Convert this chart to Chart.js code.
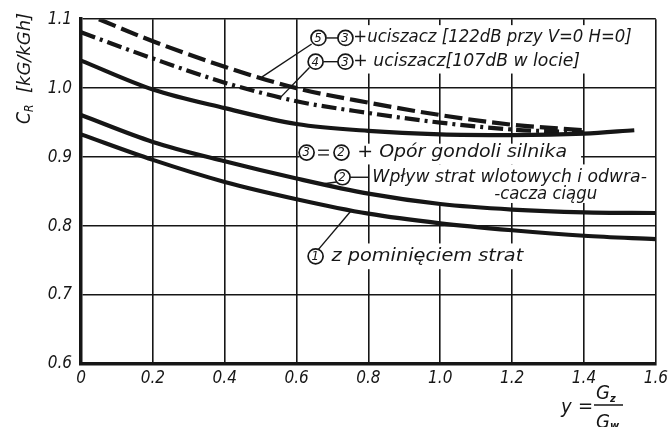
<!DOCTYPE html>
<html>
<head>
<meta charset="utf-8">
<script src="https://cdn.jsdelivr.net/npm/chart.js@4/dist/chart.umd.min.js"></script>
<style>
  html, body { margin: 0; padding: 0; background: #fff; }
  #wrap { width: 672px; height: 427px; }
</style>
</head>
<body>
<div id="wrap"><canvas id="c" width="672" height="427"></canvas></div>
<script>
// Specific fuel consumption C_R versus bypass ratio y = Gz/Gw
const FONT = "'Liberation Sans Narrow','DejaVu Sans Condensed','Liberation Sans',sans-serif";
const INK = '#161616';

// x ticks (bypass ratio) and y ticks (C_R)
const xTickValues = [0, 0.2, 0.4, 0.6, 0.8, 1.0, 1.2, 1.4, 1.6];
const yTickValues = [0.6, 0.7, 0.8, 0.9, 1.0, 1.1];

// curve 1: without losses
const x1 = [0, 0.2, 0.4, 0.6, 0.8, 1.0, 1.2, 1.4, 1.6];
const c1 = [0.933, 0.896, 0.864, 0.839, 0.818, 0.804, 0.794, 0.786, 0.781];
// curve 2: inlet and thrust-reverser losses
const x2 = [0, 0.2, 0.4, 0.6, 0.8, 1.0, 1.2, 1.4, 1.6];
const c2 = [0.961, 0.922, 0.894, 0.869, 0.847, 0.832, 0.824, 0.820, 0.819];
// curve 3: 2 + nacelle drag
const x3 = [0, 0.2, 0.4, 0.6, 0.8, 1.0, 1.2, 1.4, 1.54];
const c3 = [1.040, 0.998, 0.971, 0.948, 0.938, 0.933, 0.932, 0.934, 0.939];
// curve 4: 3 + silencer (107 dB in flight)
const x4 = [0, 0.2, 0.4, 0.6, 0.8, 1.0, 1.2, 1.4];
const c4 = [1.081, 1.043, 1.008, 0.981, 0.964, 0.950, 0.940, 0.936];
// curve 5: 3 + silencer (122 dB at V=0 H=0)
const x5 = [0.05, 0.2, 0.4, 0.6, 0.8, 1.0, 1.2, 1.4];
const c5 = [1.100, 1.068, 1.031, 1.000, 0.979, 0.961, 0.947, 0.939];

const pts = (xs, ys) => xs.map((x, i) => ({ x: x, y: ys[i] }));

function lineSet(xs, ys, dash) {
  return {
    data: pts(xs, ys),
    borderColor: INK,
    borderWidth: 4.2,
    borderDash: dash || [],
    borderCapStyle: 'butt',
    pointRadius: 0,
    fill: false,
    cubicInterpolationMode: 'monotone'
  };
}

// white backing behind the labels, in data units [x0, x1, y0, y1]
const whiteBoxes = [
  [0.614, 1.558, 1.0914, 1.0212],
  [0.608, 1.392, 0.9195, 0.8894],
  [0.806, 1.583, 0.8894, 0.8335],
  [0.633, 1.253, 0.7748, 0.7375]
];

function circled(ctx, x, y, d) {
  ctx.beginPath();
  ctx.arc(x, y, 7.5, 0, Math.PI * 2);
  ctx.fillStyle = '#fff';
  ctx.fill();
  ctx.lineWidth = 1.7;
  ctx.strokeStyle = INK;
  ctx.stroke();
  ctx.fillStyle = INK;
  ctx.font = `italic 13px ${FONT}`;
  ctx.textAlign = 'center';
  ctx.textBaseline = 'middle';
  ctx.fillText(d, x - 0.5, y + 0.5);
}

function seg(ctx, a, b, w) {
  ctx.beginPath();
  ctx.moveTo(a[0], a[1]);
  ctx.lineTo(b[0], b[1]);
  ctx.lineWidth = w || 1.4;
  ctx.strokeStyle = INK;
  ctx.stroke();
}

// draw a label stretched to span from x0 to x1 (or with a fixed stretch factor)
function text(ctx, s, x0, x1, y, stretch) {
  ctx.save();
  ctx.fillStyle = INK;
  ctx.font = `italic 17px ${FONT}`;
  ctx.textAlign = 'left';
  ctx.textBaseline = 'middle';
  const w = ctx.measureText(s).width;
  ctx.translate(x0, y);
  ctx.scale(stretch || (x1 - x0) / w, 1);
  ctx.fillText(s, 0, 0);
  ctx.restore();
}

const notes = {
  id: 'notes',
  beforeDatasetsDraw(chart) {
    const { ctx } = chart;
    const X = v => chart.scales.x.getPixelForValue(v);
    const Y = v => chart.scales.y.getPixelForValue(v);
    ctx.save();
    ctx.fillStyle = '#fff';
    whiteBoxes.forEach(b => {
      ctx.fillRect(X(b[0]), Y(b[2]), X(b[1]) - X(b[0]), Y(b[3]) - Y(b[2]));
    });
    ctx.restore();
  },
  afterDatasetsDraw(chart) {
    const { ctx } = chart;
    const X = v => chart.scales.x.getPixelForValue(v);
    const Y = v => chart.scales.y.getPixelForValue(v);
    const P = (x, y) => [X(x), Y(y)];
    ctx.save();

    // leaders
    seg(ctx, P(0.642, 1.064), P(0.503, 1.016));
    seg(ctx, P(0.636, 1.030), P(0.556, 0.987));
    seg(ctx, P(0.711, 0.864), P(0.672, 0.861));
    seg(ctx, P(0.661, 0.7662), P(0.753, 0.823));

    // row 5
    seg(ctx, P(0.683, 1.0728), P(0.717, 1.0728));
    circled(ctx, X(0.661), Y(1.0728), '5');
    circled(ctx, X(0.736), Y(1.0728), '3');
    text(ctx, '+uciszacz [122dB przy V=0 H=0]', X(0.758), X(1.533), Y(1.0728));

    // row 4
    seg(ctx, P(0.675, 1.0384), P(0.717, 1.0384));
    circled(ctx, X(0.653), Y(1.0384), '4');
    circled(ctx, X(0.736), Y(1.0384), '3');
    text(ctx, '+ uciszacz[107dB w locie]', X(0.758), X(1.389), Y(1.0384));

    // row 3
    seg(ctx, P(0.660, 0.9100), P(0.690, 0.9100), 1.3);
    seg(ctx, P(0.660, 0.9032), P(0.690, 0.9032), 1.3);
    circled(ctx, X(0.628), Y(0.9066), '3');
    circled(ctx, X(0.725), Y(0.9066), '2');
    text(ctx, '+ Opór gondoli silnika', X(0.769), X(1.353), Y(0.9066));

    // row 2
    seg(ctx, P(0.749, 0.8708), P(0.8, 0.8708));
    circled(ctx, X(0.728), Y(0.8708), '2');
    text(ctx, 'Wpływ strat wlotowych i odwra-', X(0.811), X(1.575), Y(0.8708));
    text(ctx, '-cacza ciągu', X(1.150), null, Y(0.8464), 1.08);

    // row 1
    circled(ctx, X(0.653), Y(0.7562), '1');
    text(ctx, 'z pominięciem strat', X(0.697), X(1.231), Y(0.7562));

    // y axis title (rotated)
    ctx.save();
    ctx.translate(25, 124);
    ctx.rotate(-Math.PI / 2);
    ctx.fillStyle = INK;
    ctx.textAlign = 'left';
    ctx.textBaseline = 'middle';
    ctx.font = `italic 19px ${FONT}`;
    ctx.fillText('C', 0, 0);
    ctx.font = `italic 12px ${FONT}`;
    ctx.fillText('R', 12, 5);
    ctx.font = `italic 18px ${FONT}`;
    const tw = ctx.measureText('[kG/kGh]').width;
    ctx.translate(31, 0);
    ctx.scale(80 / tw, 1);
    ctx.fillText('[kG/kGh]', 0, 0);
    ctx.restore();

    // x axis title: y = Gz / Gw
    ctx.fillStyle = INK;
    ctx.textBaseline = 'alphabetic';
    ctx.textAlign = 'left';
    ctx.font = `italic 20px ${FONT}`;
    ctx.fillText('y', 561, 413);
    ctx.fillText('=', 578, 412);
    ctx.fillText('G', 596, 399);
    ctx.font = `italic bold 11px ${FONT}`;
    ctx.fillText('z', 610, 402);
    seg(ctx, [594, 405], [623, 405], 1.5);
    ctx.font = `italic 20px ${FONT}`;
    ctx.fillText('G', 596, 428);
    ctx.font = `italic bold 11px ${FONT}`;
    ctx.fillText('w', 610, 429);

    ctx.restore();
  }
};

const tickFont = { family: FONT, size: 17, style: 'italic' };

new Chart(document.getElementById('c'), {
  type: 'line',
  data: {
    datasets: [
      lineSet(x1, c1),
      lineSet(x2, c2),
      lineSet(x3, c3),
      lineSet(x4, c4, [15, 5, 3, 5]),
      lineSet(x5, c5, [18, 6])
    ]
  },
  options: {
    responsive: false,
    animation: false,
    layout: { padding: { top: 15, right: 15, left: 0, bottom: 0 } },
    plugins: { legend: { display: false }, tooltip: { enabled: false }, title: { display: false } },
    scales: {
      x: {
        type: 'linear',
        min: xTickValues[0],
        max: xTickValues[xTickValues.length - 1],
        afterBuildTicks: s => { s.ticks = xTickValues.map(v => ({ value: v })); },
        afterFit: s => { s.height = 63; },
        ticks: {
          color: INK,
          font: tickFont,
          padding: 4,
          maxRotation: 0,
          callback: v => (v === 0 ? '0' : Number(v).toFixed(1))
        },
        grid: { color: INK, lineWidth: 1.6, drawTicks: false },
        border: { display: true, color: INK, width: 3.5 }
      },
      y: {
        type: 'linear',
        min: yTickValues[0],
        max: yTickValues[yTickValues.length - 1],
        afterBuildTicks: s => { s.ticks = yTickValues.map(v => ({ value: v })); },
        afterFit: s => { s.width = 81; },
        ticks: {
          color: INK,
          font: tickFont,
          padding: 9,
          callback: v => Number(v).toFixed(1)
        },
        grid: { color: INK, lineWidth: 1.6, drawTicks: false },
        border: { display: true, color: INK, width: 3.5 }
      }
    }
  },
  plugins: [notes]
});
</script>
</body>
</html>
